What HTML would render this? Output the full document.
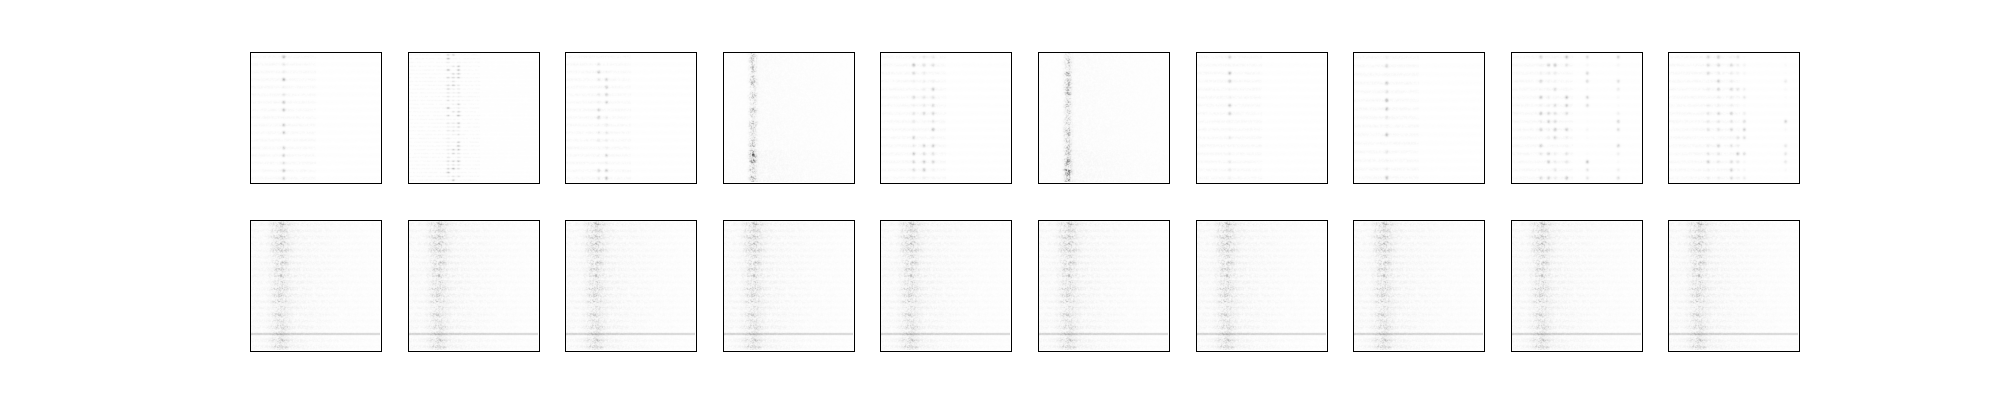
<!DOCTYPE html>
<html><head><meta charset="utf-8">
<style>
html,body{margin:0;padding:0;background:#fff;}
#fig{position:relative;width:2000px;height:400px;background:#fff;overflow:hidden;}
.ax{position:absolute;width:132px;height:132px;box-sizing:border-box;border:1.5px solid #000;background:#fff;}
.ax canvas{position:absolute;left:0;top:0;width:129px;height:129px;}
</style></head>
<body>
<div id="fig"></div>
<script>
// Per-panel data (fractions of panel width) for top row
const topPeaks = [[0.25],[0.30,0.34,0.38],[0.25,0.31],[0.22],[0.25,0.33,0.40],[0.22],[0.25],[0.25],[0.22,0.28,0.33,0.42,0.58,0.82],[0.30,0.38,0.48,0.53,0.58,0.90]];
const topStrength = [0.35,0.4,0.3,0.5,0.32,0.55,0.3,0.4,0.3,0.25];
const topDense = [0,0,0,1,0,1,0,0,0,0];
const rowCount = [17,34,17,40,16,40,16,15,16,16];
const bottomPeak = [0.22,0.22,0.22,0.22,0.22,0.22,0.22,0.22,0.22,0.22];
const fig = document.getElementById('fig');
const S = 129, left0 = 250, pitch = 157.6, tops = [52, 220];
function hash(a,b,c){let h=(a*374761393+b*668265263+c*2147483647)|0;h=(h^(h>>>13))*1274126177;h=h^(h>>>16);return ((h>>>0)%10000)/10000;}
function panel(row,i){
  const d=document.createElement('div');d.className='ax';
  d.style.left=(left0+pitch*i)+'px';d.style.top=tops[row]+'px';
  
  
  const c=document.createElement('canvas');c.width=S;c.height=S;d.appendChild(c);fig.appendChild(d);
  const ctx=c.getContext('2d');const img=ctx.createImageData(S,S);const v=new Float32Array(S*S);
  if(row===0){
    const n=rowCount[i],st=topStrength[i];
    for(let y=0;y<S;y++){
      const rp=(y+0.5)*n/S, fr=rp-Math.floor(rp), ri=Math.floor(rp);
      const onRow=Math.exp(-Math.pow((fr-0.5)*5,2));
      for(let x=0;x<S;x++){
        let a=0;const fx=x/S;
        if(topDense[i]){
          const dx=fx-topPeaks[i][0];
          a+=st*Math.exp(-dx*dx/0.0006)*Math.pow(hash(x,y,i),2)*(0.3+0.7*hash(ri,i,9));
          a+=0.03*hash(y,x,i+7)*(fx>topPeaks[i][0]?Math.exp(-(fx-topPeaks[i][0])/0.5):0.3);
          if(y>S*0.75)a*=1.6;
        }else{
          for(const p of topPeaks[i]){const dx=fx-p;a+=st*onRow*Math.exp(-dx*dx/0.00012)*Math.pow(hash(ri,i*7+Math.round(p*100),3),1.5)*(0.6+0.4*hash(x,y,2));}
          a+=0.04*onRow*(fx<topPeaks[i][0]+0.25?1:0.2)*hash(x,y,i);
        }
        v[y*S+x]=a;
      }
    }
  }else{
    const p=bottomPeak[i];
    for(let y=0;y<S;y++){
      const rp=(y+0.5)*20/S,fr=rp-Math.floor(rp),ri=Math.floor(rp);
      const onRow=0.3+0.7*Math.exp(-Math.pow((fr-0.5)*3,2));
      for(let x=0;x<S;x++){
        const fx=x/S,dx=fx-p;let a=0;
        a+=0.35*Math.exp(-dx*dx/0.004)*Math.pow(hash(x,y,11),2)*onRow*(0.5+0.5*hash(ri,3,1));
        a+=(fx>p?0.1*Math.exp(-(fx-p)/0.4):0.05)*hash(y,x,5)*onRow;
        if(Math.abs(y-S*0.87)<0.8)a+=0.15;
        v[y*S+x]=a;
      }
    }
  }
  for(let k=0;k<S*S;k++){const g=Math.max(0,255-Math.min(1,v[k])*255);img.data[k*4]=g;img.data[k*4+1]=g;img.data[k*4+2]=g;img.data[k*4+3]=255;}
  ctx.putImageData(img,0,0);
}
for(let r=0;r<2;r++)for(let i=0;i<10;i++)panel(r,i);
</script>
</body></html>
